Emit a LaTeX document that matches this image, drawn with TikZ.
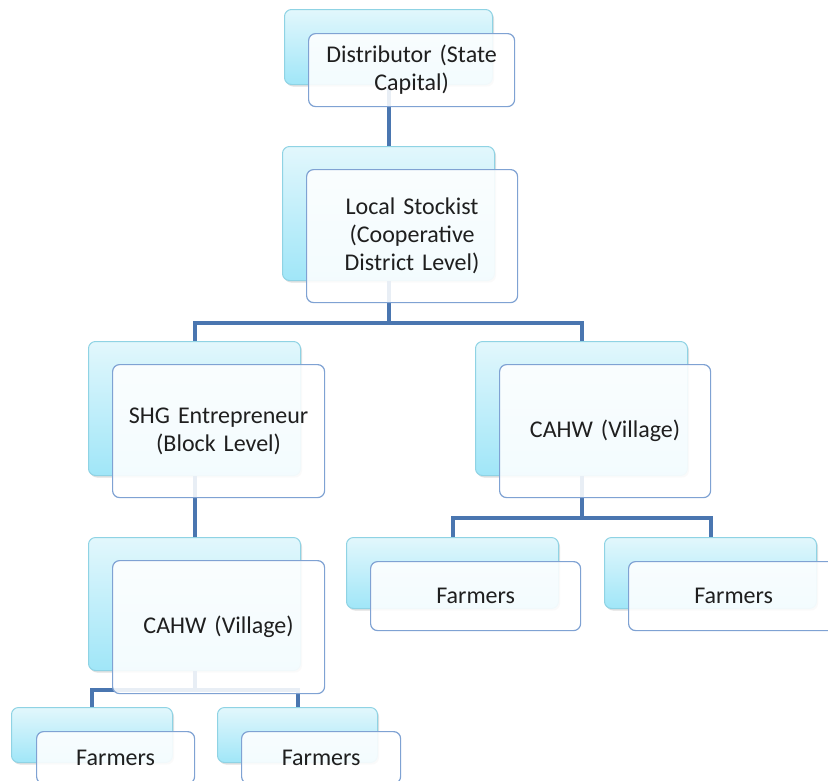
\documentclass[tikz,border=0pt]{standalone}
\usepackage{fontspec}
\setmainfont{Carlito}
\usetikzlibrary{shadows}
\definecolor{linkblue}{HTML}{4A76B0}
\definecolor{frontedge}{HTML}{7FA2D3}
\definecolor{backedge}{HTML}{8FD3E4}
\definecolor{backtop}{HTML}{E2F7FC}
\definecolor{backbot}{HTML}{A0E6F8}
\tikzset{
  backbox/.style={rectangle, rounded corners=7pt, anchor=north west,
    draw=backedge, line width=1pt, top color=backtop, bottom color=backbot,
    drop shadow={opacity=0.25, shadow xshift=1.5pt, shadow yshift=-2pt}},
  frontbox/.style={rectangle, rounded corners=7pt, anchor=north west,
    draw=frontedge, line width=1.2pt, fill=white, fill opacity=0.88,
    text opacity=1, text=black!88, align=center,
    font=\fontsize{24}{28}\selectfont},
  link/.style={linkblue, line width=4pt},
}
\begin{document}
\begin{tikzpicture}[x=1pt,y=-1pt]
  \useasboundingbox (0,0) rectangle (828,780);
  % back boxes
  \foreach \n/\x/\y/\w/\h in {dist/284/9/208/75, stock/282/146/212/134,
      shg/88/341/212/134, cahwR/475/341/212/134, cahwL/88/537/212/133,
      farmRa/346/537/212/71, farmRb/604/537/212/71,
      farmLa/11/707/161/55, farmLb/217/707/160/55}
    \node[backbox, minimum width=\w pt, minimum height=\h pt] (\n-b) at (\x,\y) {};

  % connectors
  \draw[link] (dist-b.south) -- (stock-b.north);
  \draw[link] (stock-b.south) -- ++(0,42) coordinate (forkA);
  \draw[link] (forkA) -| (shg-b.north);
  \draw[link] (forkA) -| (cahwR-b.north);
  \draw[link] (shg-b.south) -- (cahwL-b.north);
  \draw[link] (cahwR-b.south) -- ++(0,42) coordinate (forkB);
  \draw[link] (forkB) -| (farmRa-b.north);
  \draw[link] (forkB) -| (farmRb-b.north);
  \draw[link] (cahwL-b.south) -- ++(0,19) coordinate (forkC);
  \draw[link] (forkC) -| (farmLa-b.north);
  \draw[link] (forkC) -| (farmLb-b.north);

  % front boxes
  \foreach \n/\x/\y/\w/\h/\t in {dist/308/33/206/73/{Distributor (State\\Capital)},
      stock/306/169/211/133/{Local Stockist\\(Cooperative\\District Level)},
      shg/112/364/212/133/{SHG Entrepreneur\\(Block Level)},
      cahwR/499/364/211/133/{CAHW (Village)},
      cahwL/112/560/212/133/{CAHW (Village)},
      farmRa/370/561/210/69/{Farmers}, farmRb/628/561/210/69/{Farmers},
      farmLa/36/731/158/52/{Farmers}, farmLb/241/731/159/52/{Farmers}}
    \node[frontbox, minimum width=\w pt, minimum height=\h pt,
      text width=\w pt-16pt] (\n) at (\x,\y) {\t};
\end{tikzpicture}
\end{document}
